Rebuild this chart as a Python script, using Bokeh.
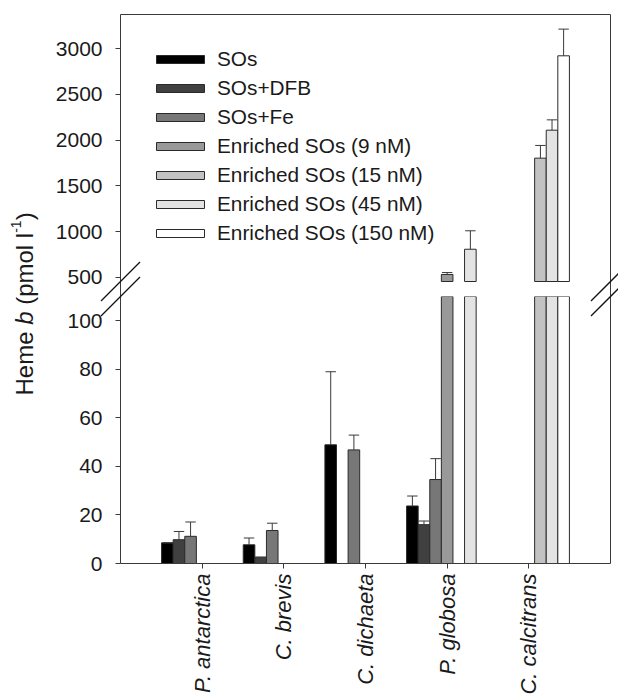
import math
from bokeh.plotting import figure
from bokeh.models import (Range1d, LinearAxis, FixedTicker, ColumnDataSource, Legend, LegendItem,
                          GridBox, Spacer)
from bokeh.layouts import row, column
from bokeh.transform import dodge
from bokeh.embed import file_html
from bokeh.resources import INLINE
from bokeh.core.properties import value

nan = float("nan")

# ---------------- data ----------------
species = ["P. antarctica", "C. brevis", "C. dichaeta", "P. globosa", "C. calcitrans"]
series_names = ["SOs", "SOs+DFB", "SOs+Fe", "Enriched SOs (9 nM)", "Enriched SOs (15 nM)",
                "Enriched SOs (45 nM)", "Enriched SOs (150 nM)"]
series_colors = ["#000000", "#404040", "#777777", "#999999", "#c2c2c2", "#e3e3e3", "#ffffff"]

sos = [8.5, 7.7, 48.9, 23.7, nan]
sos_err = [nan, 2.8, 30.1, 4.1, nan]
sos_dfb = [9.8, 2.6, nan, 16.0, nan]
sos_dfb_err = [3.4, nan, nan, 1.5, nan]
sos_fe = [11.2, 13.6, 46.8, 34.6, nan]
sos_fe_err = [5.9, 3.0, 6.1, 8.6, nan]
enr_9 = [nan, nan, nan, 530, nan]
enr_9_err = [nan, nan, nan, 21, nan]
enr_15 = [nan, nan, nan, nan, 1803]
enr_15_err = [nan, nan, nan, nan, 139]
enr_45 = [nan, nan, nan, 806, 2109]
enr_45_err = [nan, nan, nan, 202, 113]
enr_150 = [nan, nan, nan, nan, 2923]
enr_150_err = [nan, nan, nan, nan, 292]

y_ticks_low = [0, 20, 40, 60, 80, 100]
y_ticks_up = [500, 1000, 1500, 2000, 2500, 3000]
LOW_MAX = 110      # top of lower panel
UP_FLOOR = 453     # bottom of upper panel
UP_TOP = 3375      # top of upper panel

series_values = [sos, sos_dfb, sos_fe, enr_9, enr_15, enr_45, enr_150]
series_errors = [sos_err, sos_dfb_err, sos_fe_err, enr_9_err, enr_15_err, enr_45_err, enr_150_err]

# ---------------- layout / style ----------------
FONT = "Liberation Sans"
AX = "#3a3a3a"
TXT = "#1a1a1a"
EDGE = "#2a2a2a"
FRAME_W = 490
UP_H = 267
GAP_H = 15
LOW_H = 267
LEFT = 72
RIGHT = 8
TOP = 14
LABEL_W = 48
TOTAL_W = 618
TOTAL_H = 696
BW = 0.142
CAP = 0.9 * BW

x_pos = list(range(1, len(species) + 1))
xr = Range1d(0, len(species) + 1)
up_start = UP_FLOOR - GAP_H * (UP_TOP - UP_FLOOR) / UP_H


def style_axis(ax, size="21px"):
    ax.axis_line_color = AX
    ax.major_tick_line_color = AX
    ax.minor_tick_line_color = None
    ax.major_tick_out = 5
    ax.major_tick_in = 0
    ax.major_label_text_font = FONT
    ax.major_label_text_font_size = size
    ax.major_label_text_color = TXT


def bare_axis():
    return LinearAxis(ticker=FixedTicker(ticks=[]), axis_line_color=AX,
                      major_tick_out=0, major_tick_in=0, minor_tick_out=0, minor_tick_in=0,
                      major_label_standoff=0, major_label_text_font_size="0px")


common = dict(output_backend="svg", toolbar_location=None, frame_width=FRAME_W,
              x_range=xr, min_border_left=LEFT, min_border_right=RIGHT,
              outline_line_color=None, background_fill_color="white", border_fill_color="white")

up = figure(frame_height=UP_H + GAP_H, y_range=Range1d(up_start, UP_TOP), x_axis_location=None,
            min_border_top=TOP, min_border_bottom=0, **common)
low = figure(frame_height=LOW_H, y_range=Range1d(0, LOW_MAX), min_border_top=0,
             min_border_bottom=0, **common)

for f in (up, low):
    f.grid.visible = False
    style_axis(f.yaxis[0])
    f.yaxis[0].major_label_standoff = 13
    f.add_layout(bare_axis(), "right")
up.add_layout(bare_axis(), "above")
up.yaxis[0].ticker = FixedTicker(ticks=y_ticks_up)
low.yaxis[0].ticker = FixedTicker(ticks=y_ticks_low)

xa = low.xaxis[0]
style_axis(xa, "22px")
xa.ticker = FixedTicker(ticks=x_pos)
xa.major_label_overrides = {int(p): s for p, s in zip(x_pos, species)}
xa.major_label_orientation = math.pi / 2
xa.major_label_text_font_style = "italic"
xa.major_label_standoff = 5


def with_err(v, e):
    return v + e if not math.isnan(e) else v


legend_items = []
for i, (name, col, vals, errs) in enumerate(zip(series_names, series_colors, series_values, series_errors)):
    off = (i - 3) * BW
    # lower panel: every bar, clipped to the panel top
    lo_rows = [(xp, v, e) for xp, v, e in zip(x_pos, vals, errs) if not math.isnan(v)]
    src_lo = ColumnDataSource(dict(x=[r[0] for r in lo_rows],
                                   top=[min(r[1], LOW_MAX) for r in lo_rows]))
    low.vbar(x=dodge("x", off), width=BW, bottom=0, top="top", source=src_lo,
             fill_color=col, line_color=EDGE, line_width=1)
    # error bars for bars that end inside the lower panel
    le_rows = [r for r in lo_rows if r[1] <= LOW_MAX]
    src_le = ColumnDataSource(dict(x=[r[0] for r in le_rows], val=[r[1] for r in le_rows],
                                   hi=[with_err(r[1], r[2]) for r in le_rows]))
    low.segment(x0=dodge("x", off), x1=dodge("x", off), y0="val", y1="hi", source=src_le,
                line_color=AX, line_width=1)
    low.segment(x0=dodge("x", off - CAP / 2), x1=dodge("x", off + CAP / 2), y0="hi", y1="hi",
                source=src_le, line_color=AX, line_width=1)
    # upper panel (values above the break; others NaN so nothing is drawn)
    up_val = [v if (not math.isnan(v) and v > LOW_MAX) else nan for v in vals]
    up_hi = [with_err(v, e) if not math.isnan(v) else nan for v, e in zip(up_val, errs)]
    src_up = ColumnDataSource(dict(x=x_pos, val=up_val, hi=up_hi))
    r = up.vbar(x=dodge("x", off), width=BW, bottom=UP_FLOOR, top="val", source=src_up,
                fill_color=col, line_color=EDGE, line_width=1)
    up.segment(x0=dodge("x", off), x1=dodge("x", off), y0="val", y1="hi", source=src_up,
               line_color=AX, line_width=1)
    up.segment(x0=dodge("x", off - CAP / 2), x1=dodge("x", off + CAP / 2), y0="hi", y1="hi",
               source=src_up, line_color=AX, line_width=1)
    legend_items.append(LegendItem(label=name, renderers=[r]))

legend = Legend(items=legend_items, location=(30, 51), glyph_width=60, glyph_height=10,
                label_standoff=7, spacing=5, padding=0, margin=0, border_line_color=None,
                background_fill_alpha=0, label_text_font=FONT, label_text_font_size="20.8px",
                label_text_color=TXT, label_height=20)
up.add_layout(legend)

main = row(Spacer(width=LABEL_W, height=10), column(up, low))

# ---------------- transparent overlay: y-axis title and axis-break marks ----------------
ov = figure(width=TOTAL_W, height=TOTAL_H, x_range=Range1d(0, TOTAL_W), y_range=Range1d(0, TOTAL_H),
            output_backend="svg", toolbar_location=None, min_border=0, outline_line_color=None,
            x_axis_location=None, y_axis_location=None,
            background_fill_alpha=0, border_fill_alpha=0)
ov.grid.visible = False

box_l = LABEL_W + LEFT
box_r = box_l + FRAME_W
brk_y = [TOP + UP_H, TOP + UP_H + GAP_H]     # panel edges (pixels from top)
half_px = 19.5
bx, by = [], []
for xe in (box_l, box_r):
    for yb in brk_y:
        bx.append(xe)
        by.append(TOTAL_H - yb)
ov.segment(x0=[x - half_px for x in bx], y0=[y - half_px for y in by],
           x1=[x + half_px for x in bx], y1=[y + half_px for y in by],
           line_color="#111111", line_width=1.3)

NB = "\u00a0"
adv = {"H": .722, "e": .556, "m": .833, NB: .278, "b": .556, "(": .333, "p": .556, "o": .556,
       "l": .222, "-": .333, "1": .556, ")": .333}
pieces = [("Heme" + NB, 24, "normal", 0), ("b", 24, "italic", 0), (NB + "(pmol" + NB + "l", 24, "normal", 0),
          ("-1", 14, "normal", 8), (")", 24, "normal", 0)]
base_x = 23.7
ycur = TOTAL_H - 395
for txt, sz, style, raise_px in pieces:
    ov.text(x=[base_x - raise_px], y=[ycur], text=[txt], angle=math.pi / 2,
            text_font=value(FONT), text_font_size=value(f"{sz}px"), text_font_style=style,
            text_color=TXT, text_align="left", text_baseline="alphabetic")
    ycur += sum(adv[c] for c in txt) * sz

layout = GridBox(children=[(main, 0, 0), (ov, 0, 0)])
open("out.html", "w").write(file_html(layout, INLINE))
